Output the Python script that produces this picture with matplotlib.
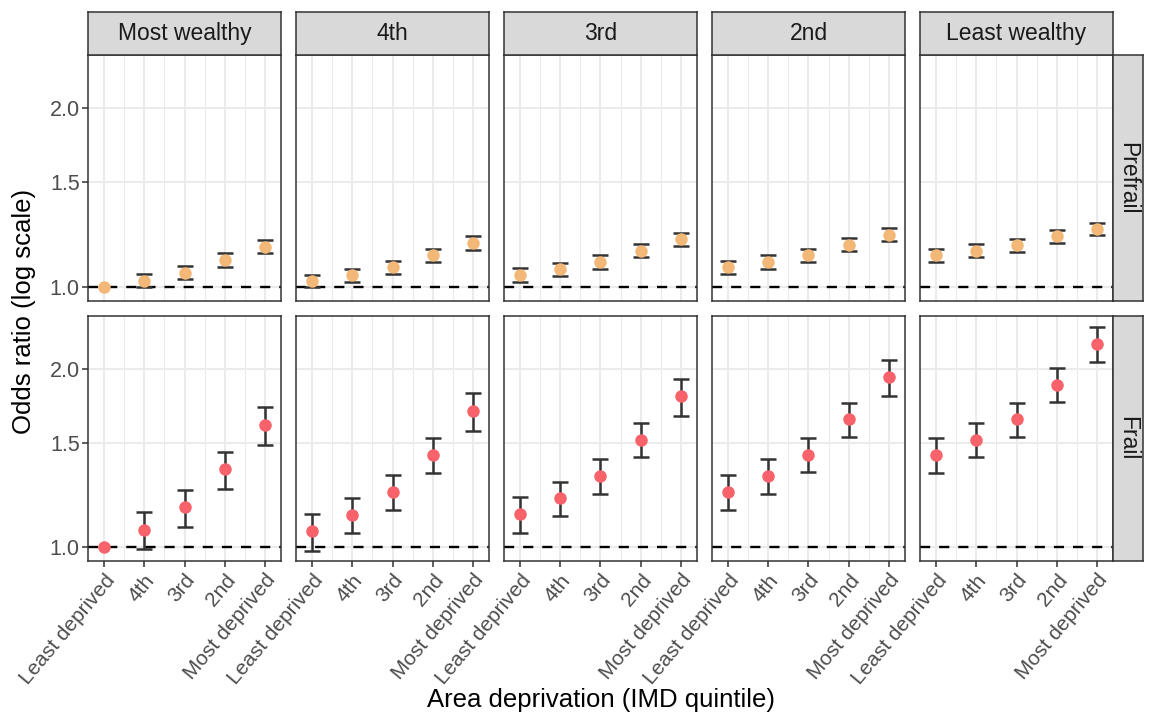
import numpy as np
import matplotlib
matplotlib.use("Agg")
import matplotlib.pyplot as plt

plt.rcParams["font.family"] = ["Liberation Sans", "DejaVu Sans"]

# ── Palette ───────────────────────────────────────────────────────────────────
PRE_COL   = "#F3B877"
FRAIL_COL = "#F8626B"
BAR_COL   = "#333333"
GRID_COL  = "#EBEBEB"
STRIP_BG  = "#D9D9D9"
TICK_COL  = "#4D4D4D"

W, H = 1150, 716

wealth   = ["Most wealthy", "4th", "3rd", "2nd", "Least wealthy"]
outcomes = ["Prefrail", "Frail"]
imd      = ["Least deprived", "4th", "3rd", "2nd", "Most deprived"]
y_breaks = [1.0, 1.5, 2.0]
y_labels = ["1.0", "1.5", "2.0"]

nan = np.nan

# Prefrail: one row per wealth group, one column per IMD quintile
pre_est = [[1.000, 1.025, 1.057, 1.110, 1.169],
           [1.023, 1.046, 1.079, 1.131, 1.187],
           [1.047, 1.071, 1.102, 1.151, 1.203],
           [1.079, 1.102, 1.132, 1.178, 1.224],
           [1.132, 1.151, 1.176, 1.219, 1.252]]
pre_lo  = [[nan,   1.000, 1.030, 1.082, 1.139],
           [0.998, 1.020, 1.052, 1.102, 1.154],
           [1.021, 1.043, 1.073, 1.122, 1.172],
           [1.052, 1.073, 1.102, 1.148, 1.193],
           [1.102, 1.122, 1.147, 1.187, 1.223]]
pre_hi  = [[nan,   1.052, 1.086, 1.141, 1.201],
           [1.049, 1.073, 1.107, 1.160, 1.219],
           [1.075, 1.099, 1.131, 1.181, 1.234],
           [1.107, 1.131, 1.160, 1.207, 1.255],
           [1.160, 1.181, 1.206, 1.247, 1.283]]

# Frail
frail_est = [[1.000, 1.068, 1.167, 1.354, 1.606],
             [1.064, 1.133, 1.239, 1.430, 1.695],
             [1.135, 1.209, 1.318, 1.519, 1.797],
             [1.237, 1.317, 1.432, 1.646, 1.936],
             [1.432, 1.519, 1.646, 1.882, 2.203]]
frail_lo  = [[nan,   0.992, 1.083, 1.255, 1.486],
             [0.985, 1.056, 1.153, 1.332, 1.571],
             [1.057, 1.127, 1.229, 1.417, 1.667],
             [1.153, 1.228, 1.337, 1.537, 1.801],
             [1.333, 1.418, 1.537, 1.758, 2.053]]
frail_hi  = [[nan,   1.146, 1.250, 1.450, 1.728],
             [1.138, 1.212, 1.323, 1.531, 1.820],
             [1.215, 1.290, 1.406, 1.623, 1.921],
             [1.325, 1.406, 1.527, 1.755, 2.073],
             [1.531, 1.621, 1.755, 2.010, 2.356]]

series = {
    "Prefrail": (pre_est, pre_lo, pre_hi, PRE_COL),
    "Frail":    (frail_est, frail_lo, frail_hi, FRAIL_COL),
}

fig = plt.figure(figsize=(W / 100, H / 100), dpi=100)
fig.patch.set_facecolor("white")


def px_axes(x0, y0, x1, y1):
    return fig.add_axes([x0 / W, 1 - y1 / H, (x1 - x0) / W, (y1 - y0) / H])


def strip(x0, y0, x1, y1, label, rot=0):
    sa = px_axes(x0, y0, x1, y1)
    sa.set_facecolor(STRIP_BG)
    sa.set_xticks([])
    sa.set_yticks([])
    for sp in sa.spines.values():
        sp.set_edgecolor(BAR_COL)
        sp.set_linewidth(1.1)
    sa.text(0.5, 0.5, label, transform=sa.transAxes, ha="center", va="center",
            fontsize=16.5, color="#1A1A1A", rotation=rot)


row_px = [(55, 301), (316, 561)]
x_pos = np.arange(1, 6)

for r, outcome in enumerate(outcomes):
    est_all, lo_all, hi_all, col = series[outcome]
    y0, y1 = row_px[r]
    for c, grp in enumerate(wealth):
        x0 = 88 + c * 208
        x1 = x0 + 193
        ax = px_axes(x0, y0, x1, y1)
        ax.set_yscale("log")
        ax.set_xlim(0.6, 5.4)
        ax.set_ylim(0.947, 2.458)

        # grid
        ax.set_xticks(x_pos)
        ax.set_xticks(x_pos[:-1] + 0.5, minor=True)
        ax.set_yticks(y_breaks)
        ax.yaxis.set_minor_locator(matplotlib.ticker.NullLocator())
        ax.grid(which="major", color=GRID_COL, linewidth=1.5, zorder=0)
        ax.grid(which="minor", axis="x", color=GRID_COL, linewidth=0.8, zorder=0)
        ax.set_axisbelow(True)

        ax.axhline(1.0, color="black", linewidth=1.7, linestyle=(0, (4.3, 3.8)),
                   zorder=2)

        est = np.array(est_all[c])
        lo = np.array(lo_all[c])
        hi = np.array(hi_all[c])
        ok = np.isfinite(lo)
        ax.errorbar(x_pos[ok], est[ok], yerr=[est[ok] - lo[ok], hi[ok] - est[ok]],
                    fmt="none", ecolor=BAR_COL, elinewidth=1.8, capsize=6,
                    capthick=1.8, zorder=3)
        ax.plot(x_pos, est, "o", color=col, markersize=9, markeredgewidth=0,
                zorder=4)

        for sp in ax.spines.values():
            sp.set_edgecolor(BAR_COL)
            sp.set_linewidth(1.1)

        ax.tick_params(which="minor", length=0)
        ax.tick_params(which="major", color=BAR_COL, width=1.1, length=4,
                       labelcolor=TICK_COL)
        if c == 0:
            ax.set_yticklabels(y_labels, fontsize=15.5)
            ax.tick_params(axis="y", pad=2)
        else:
            ax.tick_params(axis="y", length=0, labelleft=False)
        if r == 1:
            ax.set_xticklabels(imd, fontsize=15, rotation=50, ha="right",
                               va="top", rotation_mode="anchor")
            ax.tick_params(axis="x", pad=3)
        else:
            ax.tick_params(axis="x", length=0, labelbottom=False)

        if r == 0:
            strip(x0, 12, x1, 55, grp)
    strip(1113, y0, 1143, y1, outcome, rot=-90)

fig.text(601 / W, 1 - 700 / H, "Area deprivation (IMD quintile)", ha="center",
         va="center", fontsize=18.5, color="black")
fig.text(24 / W, 1 - 311 / H, "Odds ratio (log scale)", ha="center",
         va="center", fontsize=18.5, color="black", rotation=90)

fig.savefig("out.png", dpi=100, facecolor="white")
